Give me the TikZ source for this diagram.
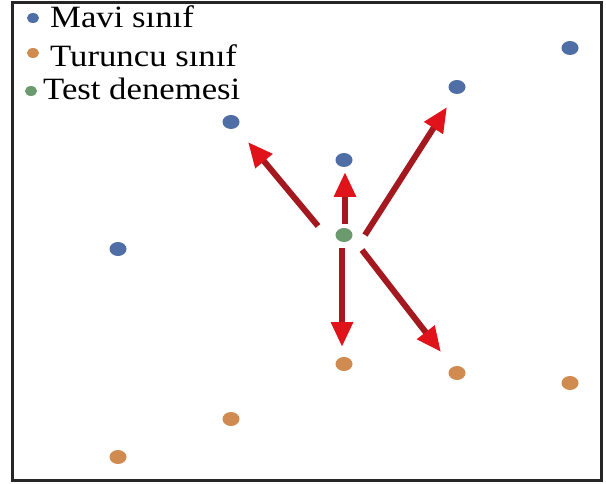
\documentclass[tikz,border=0pt]{standalone}
\usepackage{fontspec}
\setmainfont{Liberation Serif}[FakeStretch=1.12]
\usetikzlibrary{arrows.meta,shapes.geometric}
\definecolor{bluedot}{HTML}{4F6EA6}
\definecolor{orangedot}{HTML}{D08B50}
\definecolor{greendot}{HTML}{6A9A6E}
\definecolor{arrowline}{HTML}{A3191F}
\definecolor{arrowhead}{HTML}{E0121A}
\begin{document}
\begin{tikzpicture}[x=1pt,y=-1pt,
  dot/.style={ellipse,minimum width=17pt,minimum height=14pt,inner sep=0pt},
  bdot/.style={dot,fill=bluedot},
  odot/.style={dot,fill=orangedot},
  gdot/.style={dot,fill=greendot},
  ldot/.style={ellipse,minimum width=12pt,minimum height=10pt,inner sep=0pt},
  legtext/.style={anchor=base west,inner sep=0pt,font=\fontsize{31}{36}\selectfont},
  arr/.style={line width=6pt,draw=arrowline,-{Triangle[length=25pt,width=21pt,color=arrowhead]}}
]
\useasboundingbox (0,0) rectangle (606,484);
\draw[line width=3pt,black!85] (12,3) rectangle (601,480);
% legend
\node[ldot,fill=bluedot] (lb) at (33,18) {};
\node[legtext] (tb) at (50,28) {Mavi sınıf};
\node[ldot,fill=orangedot] (lo) at (33,53) {};
\node[legtext] (to) at (50,67) {Turuncu sınıf};
\node[ldot,fill=greendot] (lg) at (31,91) {};
\node[legtext] (tg) at (43,100) {Test denemesi};
% blue points
\node[bdot] (b1) at (231,122) {};
\node[bdot] (b2) at (344,160) {};
\node[bdot] (b3) at (457,87) {};
\node[bdot] (b4) at (570,48) {};
\node[bdot] (b5) at (118,249) {};
% orange points
\node[odot] (o1) at (344,364) {};
\node[odot] (o2) at (457,373) {};
\node[odot] (o3) at (570,383) {};
\node[odot] (o4) at (231,419) {};
\node[odot] (o5) at (118,457) {};
% test point
\node[gdot] (t) at (344,235) {};
% arrow ends
\coordinate (s1) at (318,226); \coordinate (e1) at (248,142);
\coordinate (s2) at (345,224); \coordinate (e2) at (345,172);
\coordinate (s3) at (365,235); \coordinate (e3) at (447,107);
\coordinate (s4) at (342,248); \coordinate (e4) at (342,347);
\coordinate (s5) at (362,250); \coordinate (e5) at (441,352);
\draw[arr] (s1) -- (e1);
\draw[arr] (s2) -- (e2);
\draw[arr] (s3) -- (e3);
\draw[arr] (s4) -- (e4);
\draw[arr] (s5) -- (e5);
\end{tikzpicture}
\end{document}
